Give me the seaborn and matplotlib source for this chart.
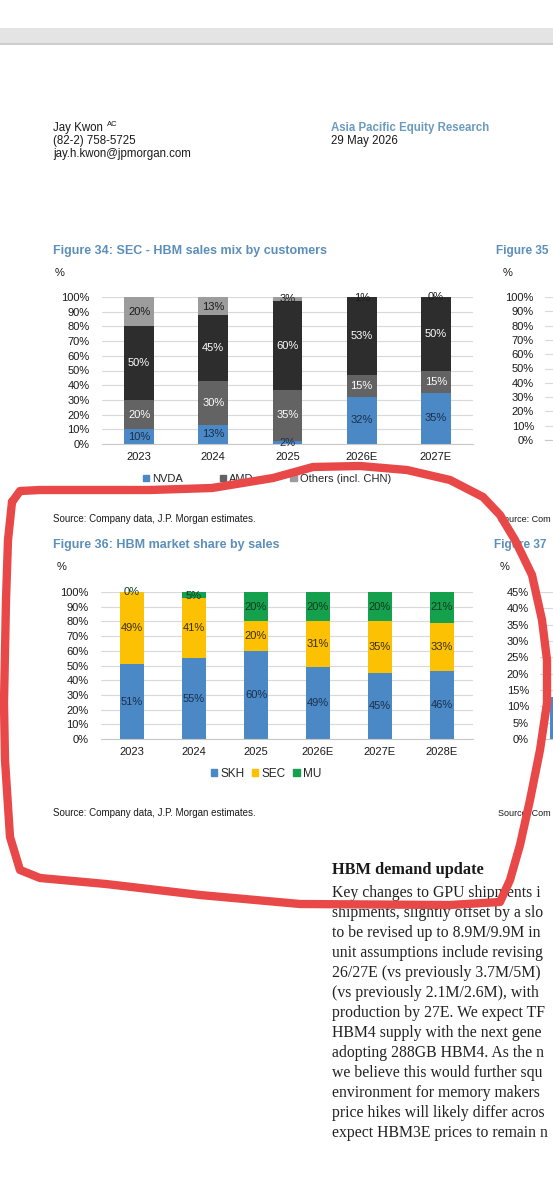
import matplotlib
matplotlib.use('Agg')
import matplotlib.pyplot as plt
from matplotlib.lines import Line2D
from matplotlib.patches import Rectangle, Patch
import seaborn as sns
import pandas as pd
import numpy as np

# ---- data ----
fig34_years = ['2023', '2024', '2025', '2026E', '2027E']
fig34_nvda = [10, 13, 2, 32, 35]
fig34_amd = [20, 30, 35, 15, 15]
fig34_asic = [50, 45, 60, 53, 50]
fig34_others = [20, 13, 3, 1, 0]
# legend shows NVDA, AMD and Others; the black series has no visible entry
fig34_legend = ['NVDA', 'AMD', 'Others (incl. CHN)']

fig36_years = ['2023', '2024', '2025', '2026E', '2027E', '2028E']
fig36_skh = [51, 55, 60, 49, 45, 46]
fig36_sec = [49, 41, 20, 31, 35, 33]
fig36_mu = [0, 5, 20, 20, 20, 21]
fig36_names = ['SKH', 'SEC', 'MU']

# figure 37 is cut by the page edge, only its first bar peeks in
fig37_years = ['2023', '2024', '2025', '2026E', '2027E']
fig37_vals = [13, 0, 0, 0, 0]

ticks_100 = list(range(0, 101, 10))
ticks_45 = list(range(0, 46, 5))

body_lines = [
    'Key changes to GPU shipments i',
    'shipments, slightly offset by a slo',
    'to be revised up to 8.9M/9.9M in',
    'unit assumptions include revising',
    '26/27E (vs previously 3.7M/5M)',
    '(vs previously 2.1M/2.6M), with',
    'production by 27E. We expect TF',
    'HBM4 supply with the next gene',
    'adopting 288GB HBM4. As the n',
    'we believe this would further squ',
    'environment for memory makers',
    'price hikes will likely differ acros',
    'expect HBM3E prices to remain n',
]

SOURCE = 'Source: Company data, J.P. Morgan estimates.'
SOURCE_CUT = 'Source: Com'

BLUE = '#4a89c6'
GREY_D = '#636363'
BLACK = '#2d2d2d'
GREY_L = '#9c9c9c'
YELLOW = '#fbc102'
GREEN = '#14a04c'
TITLE_C = '#5b8fba'
RED = '#e84848'

W, H = 553, 1200
sns.set_style('white')
plt.rcParams['font.family'] = ['Liberation Sans', 'DejaVu Sans']
SERIF = ['Liberation Serif', 'DejaVu Serif']

fig = plt.figure(figsize=(W / 100, H / 100), dpi=100)
fig.patch.set_facecolor('white')


def px_axes(x0, y0, x1, y1):
    return fig.add_axes([x0 / W, 1 - y1 / H, (x1 - x0) / W, (y1 - y0) / H])


def txt(x, y, s, **kw):
    kw.setdefault('fontsize', 8)
    kw.setdefault('va', 'center')
    kw.setdefault('color', '#1a1a1a')
    fig.text(x / W, 1 - y / H, s, **kw)


def style_axes(ax, ticks, n, pad):
    ax.set_ylim(0, ticks[-1])
    ax.set_xlim(-0.5, n - 0.5)
    ax.set_yticks(ticks)
    ax.set_yticklabels([f'{t}%' for t in ticks])
    ax.yaxis.grid(True, color='#d9d9d9', linewidth=0.8)
    ax.xaxis.grid(False)
    ax.set_axisbelow(True)
    for s in ('top', 'right', 'left'):
        ax.spines[s].set_visible(False)
    ax.spines['bottom'].set_color('#c8c8c8')
    ax.set_xticks(np.arange(n + 1) - 0.5, minor=True)
    ax.tick_params(axis='y', length=0, labelsize=8, pad=pad, labelcolor='#1a1a1a')
    ax.tick_params(axis='x', which='major', length=0, labelsize=8, pad=6, labelcolor='#1a1a1a')
    ax.tick_params(axis='x', which='minor', length=3, color='#c8c8c8')
    ax.set_xlabel('')
    ax.set_ylabel('')
    ax.set_facecolor('none')


def stacked(ax, years, layers, colors, label_colors):
    df = pd.DataFrame(np.array(layers).T, index=years)
    top = df.cumsum(axis=1).clip(upper=100)
    # seaborn stacking: tallest cumulative bar first, then the lower ones on top
    for k in reversed(range(len(layers))):
        sns.barplot(x=years, y=top[k].values, color=colors[k], width=0.4,
                    saturation=1, linewidth=0, ax=ax)
    for k in range(len(layers)):
        for i, v in enumerate(layers[k]):
            ax.text(i, top[k].iloc[i] - v / 2, f'{v}%', ha='center', va='center',
                    fontsize=8, color=label_colors[k])


# ---- viewer toolbar strip ----
fig.add_artist(Rectangle((0, 1 - 44 / H), 1, 16 / H, transform=fig.transFigure,
                         facecolor='#e4e4e4', edgecolor='none'))
fig.add_artist(Line2D([0, 1], [1 - 43.5 / H] * 2, transform=fig.transFigure,
                      color='#c6c6c6', lw=1.2))

# ---- header ----
txt(53, 128, 'Jay Kwon', fontsize=8.3)
txt(107, 124, 'AC', fontsize=5.5)
txt(53, 141, '(82-2) 758-5725', fontsize=8.3)
txt(53, 154, 'jay.h.kwon@jpmorgan.com', fontsize=8.3)
txt(331, 128, 'Asia Pacific Equity Research', fontsize=8.3, fontweight='bold',
    color='#6b9bbf')
txt(331, 141, '29 May 2026', fontsize=8.3)

# ---- Figure 34 ----
txt(53, 251, 'Figure 34: SEC - HBM sales mix by customers', fontsize=9,
    fontweight='bold', color=TITLE_C)
txt(55, 273, '%')
ax1 = px_axes(102, 297, 473, 444)
stacked(ax1, fig34_years, [fig34_nvda, fig34_amd, fig34_asic, fig34_others],
        [BLUE, GREY_D, BLACK, GREY_L], ['#1c2e4a', 'white', 'white', '#1a1a1a'])
style_axes(ax1, ticks_100, len(fig34_years), 9)
fig.legend(handles=[Patch(color=c, label=n) for c, n in
                    zip([BLUE, GREY_D, GREY_L], fig34_legend)],
           loc='center', bbox_to_anchor=(267 / W, 1 - 479 / H), ncol=3, frameon=False,
           fontsize=8, handlelength=0.55, handleheight=0.55, handletextpad=0.3,
           columnspacing=3.3)
txt(53, 519, SOURCE, fontsize=7)

# ---- Figure 35 (cut at page edge) ----
txt(496, 251, 'Figure 35', fontsize=8.5, fontweight='bold', color=TITLE_C)
txt(503, 273, '%')
ax2 = px_axes(545, 297, 900, 440)
style_axes(ax2, ticks_100, 5, 8)
ax2.set_xticks([])
txt(498, 519, SOURCE_CUT, fontsize=6.5)

# ---- Figure 36 ----
txt(53, 545, 'Figure 36: HBM market share by sales', fontsize=9,
    fontweight='bold', color=TITLE_C)
txt(57, 567, '%')
ax3 = px_axes(101, 592, 473, 739)
stacked(ax3, fig36_years, [fig36_skh, fig36_sec, fig36_mu],
        [BLUE, YELLOW, GREEN], ['#1c2e4a', '#3b2f0a', '#0f3a1e'])
style_axes(ax3, ticks_100, len(fig36_years), 9)
fig.legend(handles=[Patch(color=c, label=n) for c, n in
                    zip([BLUE, YELLOW, GREEN], fig36_names)],
           loc='center', bbox_to_anchor=(266 / W, 1 - 774 / H), ncol=3, frameon=False,
           fontsize=8.5, handlelength=0.55, handleheight=0.55, handletextpad=0.3,
           columnspacing=0.6)
txt(53, 813, SOURCE, fontsize=7)

# ---- Figure 37 (cut at page edge) ----
txt(494, 545, 'Figure 37', fontsize=8.5, fontweight='bold', color=TITLE_C)
txt(500, 567, '%')
ax4 = px_axes(540, 592, 900, 739)
sns.barplot(x=fig37_years, y=fig37_vals, color=BLUE, width=0.72, saturation=1,
            linewidth=0, ax=ax4)
style_axes(ax4, ticks_45, len(fig37_years), 8)
ax4.set_xticks([])
txt(498, 813, SOURCE_CUT, fontsize=6.5)

# ---- body text ----
txt(332, 870, 'HBM demand update', fontsize=11.8, fontweight='bold', family=SERIF)
for i, line in enumerate(body_lines):
    txt(332, 893 + 20 * i, line, fontsize=11.3, color='#222222', family=SERIF)

# ---- hand-drawn red loop ----
loop = [(12, 502), (20, 491), (40, 490), (150, 490), (212, 488), (273, 478),
        (313, 467), (360, 466), (407, 470), (450, 480), (483, 497), (500, 515),
        (515, 540), (532, 575), (542, 620), (547, 660), (547, 703), (540, 750),
        (530, 800), (520, 845), (510, 880), (500, 902), (450, 905), (300, 904),
        (200, 895), (106, 884), (40, 878), (20, 870), (10, 837), (5, 760),
        (4, 703), (6, 600), (8, 540), (12, 502)]
fig.add_artist(Line2D([p[0] / W for p in loop], [1 - p[1] / H for p in loop],
                      transform=fig.transFigure, color=RED, lw=6,
                      solid_joinstyle='round', solid_capstyle='round', zorder=20))

fig.savefig('out.png', dpi=100)
